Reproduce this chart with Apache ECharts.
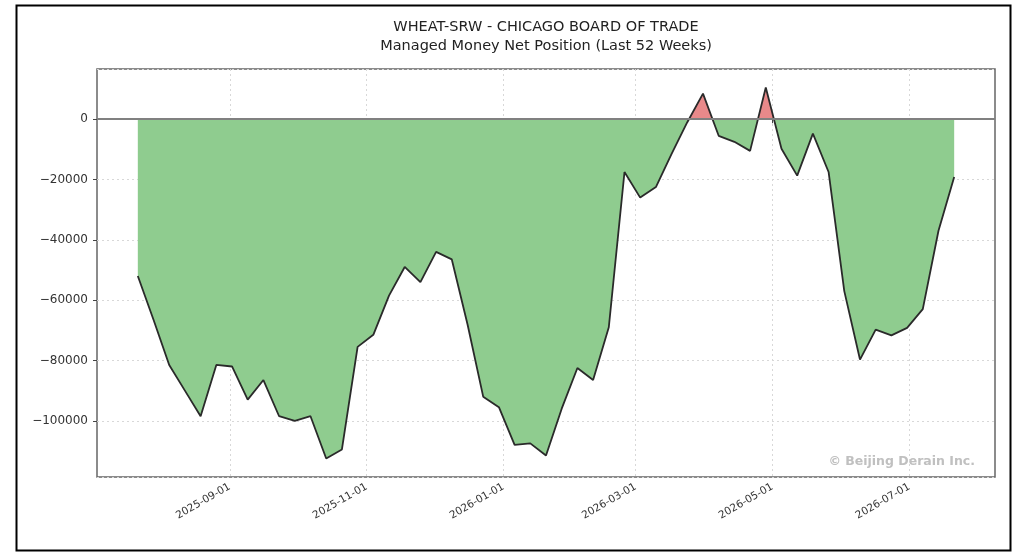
<!DOCTYPE html>
<html>
<head>
<meta charset="utf-8">
<script src="https://cdn.jsdelivr.net/npm/echarts@6/dist/echarts.min.js"></script>
<style>
  html, body { margin: 0; padding: 0; background: #fff; }
  #container { width: 1019px; height: 553px; }
</style>
</head>
<body>
<div id="container"></div>
<script>
// weekly report dates (Tuesdays)
var weeks = [
    '2025-07-22', '2025-07-29', '2025-08-05', '2025-08-12', '2025-08-19', '2025-08-26',
    '2025-09-02', '2025-09-09', '2025-09-16', '2025-09-23', '2025-09-30',
    '2025-10-07', '2025-10-14', '2025-10-21', '2025-10-28',
    '2025-11-04', '2025-11-11', '2025-11-18', '2025-11-25',
    '2025-12-02', '2025-12-09', '2025-12-16', '2025-12-23', '2025-12-30',
    '2026-01-06', '2026-01-13', '2026-01-20', '2026-01-27',
    '2026-02-03', '2026-02-10', '2026-02-17', '2026-02-24',
    '2026-03-03', '2026-03-10', '2026-03-17', '2026-03-24', '2026-03-31',
    '2026-04-07', '2026-04-14', '2026-04-21', '2026-04-28',
    '2026-05-05', '2026-05-12', '2026-05-19', '2026-05-26',
    '2026-06-02', '2026-06-09', '2026-06-16', '2026-06-23', '2026-06-30',
    '2026-07-07', '2026-07-14', '2026-07-21'
];
// managed money net position
var netPos = [
    -52000, -66500, -81500, -90000, -98500, -81500,
    -82000, -93000, -86500, -98500, -100000,
    -98500, -112500, -109500, -75500,
    -71500, -58500, -49000, -54000,
    -44000, -46500, -68000, -92000, -95500,
    -108000, -107500, -111500, -96000,
    -82500, -86500, -69000, -17500,
    -26000, -22500, -11500, -1000, 8500,
    -5500, -7500, -10500, 10500,
    -9800, -18700, -4800, -17500,
    -57000, -79700, -69800, -71700, -69200,
    -63000, -37000, -19200
];
var tickDates = ['2025-09-01', '2025-11-01', '2026-01-01', '2026-03-01', '2026-05-01', '2026-07-01'];

(function(){
    var dom = document.getElementById("container");
    var myChart = echarts.init(dom, null, {renderer: 'canvas'});

    var GREEN = '#8fcc8f', RED = '#e8898a';

    function toTime(d){ return Date.UTC(+d.slice(0, 4), +d.slice(5, 7) - 1, +d.slice(8, 10)); }

    var seriesData = [];
    for (var i = 0; i < weeks.length; i++) {
        seriesData.push([toTime(weeks[i]), netPos[i]]);
    }
    var tickTimes = tickDates.map(toTime);

    // matplotlib style 5% margins
    function padMin(v){ return v.min - (v.max - v.min) * 0.05; }
    function padMax(v){ return v.max + (v.max - v.min) * 0.05; }

    var option = {
        animation: false,
        textStyle: { fontFamily: 'DejaVu Sans' },
        title: {
            text: 'WHEAT-SRW - CHICAGO BOARD OF TRADE',
            subtext: 'Managed Money Net Position (Last 52 Weeks)',
            left: 541,
            top: 15,
            textAlign: 'center',
            itemGap: 4,
            textStyle: { fontSize: 14.5, fontWeight: 'normal', color: '#222', fontFamily: 'DejaVu Sans' },
            subtextStyle: { fontSize: 14.5, color: '#222', fontFamily: 'DejaVu Sans' }
        },
        grid: {
            left: 97, right: 24, top: 69, bottom: 76,
            show: true, borderColor: '#666', borderWidth: 1.5, backgroundColor: '#fff'
        },
        xAxis: {
            type: 'value',
            min: padMin,
            max: padMax,
            axisLine: { show: false },
            axisTick: { show: true, length: 4, lineStyle: { color: '#444' }, customValues: tickTimes },
            axisLabel: {
                customValues: tickTimes,
                rotate: 30,
                fontSize: 10.5,
                color: '#333',
                margin: 9,
                formatter: function(val){
                    var d = new Date(val);
                    var m = d.getUTCMonth() + 1, day = d.getUTCDate();
                    return d.getUTCFullYear() + '-' + (m < 10 ? '0' : '') + m + '-' + (day < 10 ? '0' : '') + day;
                }
            },
            splitLine: { show: true, lineStyle: { color: '#d8d8d8', type: [2, 3], width: 1 } }
        },
        yAxis: {
            type: 'value',
            min: padMin,
            max: padMax,
            splitNumber: 7,
            axisLine: { show: false },
            axisTick: { show: true, length: 4, lineStyle: { color: '#444' } },
            axisLabel: {
                fontSize: 12,
                color: '#333',
                margin: 9,
                showMinLabel: false,
                showMaxLabel: false,
                formatter: function(v){
                    if (v % 20000 !== 0) return '';
                    return String(v).replace('-', '\u2212');
                }
            },
            splitLine: { show: true, lineStyle: { color: '#d8d8d8', type: [2, 3], width: 1 } }
        },
        series: [
            {
                type: 'line',
                data: seriesData,
                showSymbol: false,
                symbol: 'none',
                lineStyle: { color: '#2a2a2a', width: 1.8 },
                areaStyle: { opacity: 1, origin: 0, color: GREEN },
                z: 2,
                markLine: {
                    silent: true,
                    symbol: 'none',
                    label: { show: false },
                    lineStyle: { color: '#808080', width: 2, type: 'solid' },
                    data: [{ yAxis: 0 }]
                }
            }
        ],
        graphic: [
            {
                type: 'text',
                right: 44,
                top: 455,
                style: {
                    text: '\u00a9 Beijing Derain Inc.',
                    fontSize: 12.5,
                    fontWeight: 'bold',
                    fill: '#c0c0c0',
                    fontFamily: 'DejaVu Sans'
                }
            },
            {
                type: 'rect',
                left: 14,
                top: 3,
                shape: { width: 994, height: 545 },
                style: { fill: 'none', stroke: '#000', lineWidth: 2 },
                silent: true
            }
        ]
    };

    myChart.setOption(option, true);

    // red above zero, green below: a hard stop at the zero line
    var gridTop = 69, gridBottom = 553 - 76;
    var zeroY = myChart.convertToPixel({gridIndex: 0}, [tickTimes[0], 0])[1];
    var f = (zeroY - gridTop) / (gridBottom - gridTop);
    myChart.setOption({
        series: [{
            areaStyle: {
                color: {
                    type: 'linear', x: 0, y: gridTop, x2: 0, y2: gridBottom, global: true,
                    colorStops: [
                        { offset: 0, color: RED },
                        { offset: f, color: RED },
                        { offset: f, color: GREEN },
                        { offset: 1, color: GREEN }
                    ]
                }
            }
        }]
    });
    window.onresize = myChart.resize;
}())
</script>
</body>
</html>
